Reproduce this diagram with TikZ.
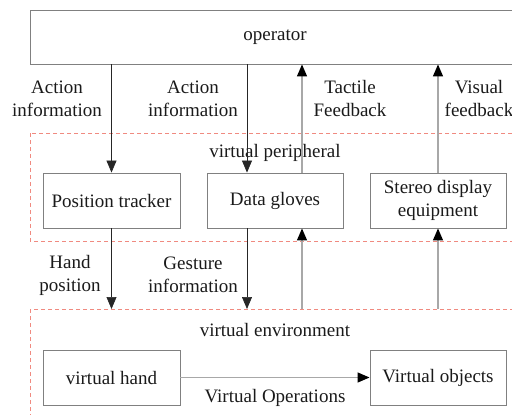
\documentclass[tikz,border=0pt]{standalone}
\usepackage{fontspec}
\setmainfont{Liberation Serif}
\usetikzlibrary{arrows.meta}
\definecolor{boxgray}{HTML}{808080}
\definecolor{linegray}{HTML}{A8A8A8}
\definecolor{dashred}{HTML}{F08A80}
\definecolor{txt}{HTML}{1A1A1A}
\begin{document}
\begin{tikzpicture}[x=1pt,y=-1pt,
  every node/.style={font=\fontsize{19}{23}\selectfont, text=txt},
  blk/.style={draw=boxgray, line width=0.9pt, minimum height=55pt, align=center, inner sep=0pt},
  lbl/.style={align=center, inner sep=0pt},
  down/.style={draw=black!85, line width=0.7pt, -{Triangle[length=12pt,width=10pt]}},
  up/.style={draw=linegray, line width=1.3pt, -{Triangle[length=12pt,width=10pt,fill=black,color=black]}},
  plain/.style={draw=linegray, line width=1.3pt},
  region/.style={draw=dashred, line width=0.7pt, dash pattern=on 4pt off 3pt}]
\useasboundingbox (0,0) rectangle (512,415);
\clip (0,0) rectangle (512,415);
% operator
\node[blk, minimum width=490pt, minimum height=54pt] (op) at (275,37) {operator};
% regions
\coordinate (pTL) at (30,133);
\coordinate (pBR) at (520,241);
\coordinate (eTL) at (30,309);
\coordinate (eBR) at (520,425);
\draw[region] (pTL) rectangle (pBR);
\draw[region] (eTL) rectangle (eBR);
\node[lbl] (vp) at (275,153) {virtual peripheral};
\node[lbl] (ve) at (275,330) {virtual environment};
% peripheral boxes
\node[blk, minimum width=137pt] (pt) at (111.5,200.5) {Position tracker};
\node[blk, minimum width=136pt] (dg) at (275,200.5) {Data gloves};
\node[blk, minimum width=136pt] (sd) at (438,200.5) {Stereo display\\equipment};
% environment boxes
\node[blk, minimum width=137pt] (vh) at (111.5,377.5) {virtual hand};
\node[blk, minimum width=136pt] (vo) at (438,377.5) {Virtual objects};
% entry points on environment top
\coordinate (e1) at (111.5,309);
\coordinate (e2) at (247,309);
\coordinate (e3) at (302,309);
\coordinate (e4) at (438,309);
% operator -> peripherals
\draw[down] (op.south -| pt) -- (pt.north);
\draw[down] (op.south -| e2) -- (dg.north -| e2);
% feedback up
\draw[up] (dg.north -| e3) -- (op.south -| e3);
\draw[up] (sd.north) -- (op.south -| sd);
% peripherals -> environment
\draw[down] (pt.south) -- (e1);
\draw[down] (dg.south -| e2) -- (e2);
% environment -> peripherals
\draw[up] (e3) -- (dg.south -| e3);
\draw[up] (e4) -- (sd.south);
% virtual operations
\draw[up] (vh.east) -- (vo.west);
% labels
\node[lbl] (l1) at (57,98.5) {Action\\information};
\node[lbl] (l2) at (193,98.5) {Action\\information};
\node[lbl] (l3) at (350,98.5) {Tactile\\Feedback};
\node[lbl] (l4) at (479,98.5) {Visual\\feedback};
\node[lbl] (l5) at (70,275) {Hand\\position};
\node[lbl] (l6) at (193,275) {Gesture\\information};
\node[lbl] (l7) at (275,398) {Virtual Operations};
\end{tikzpicture}
\end{document}
